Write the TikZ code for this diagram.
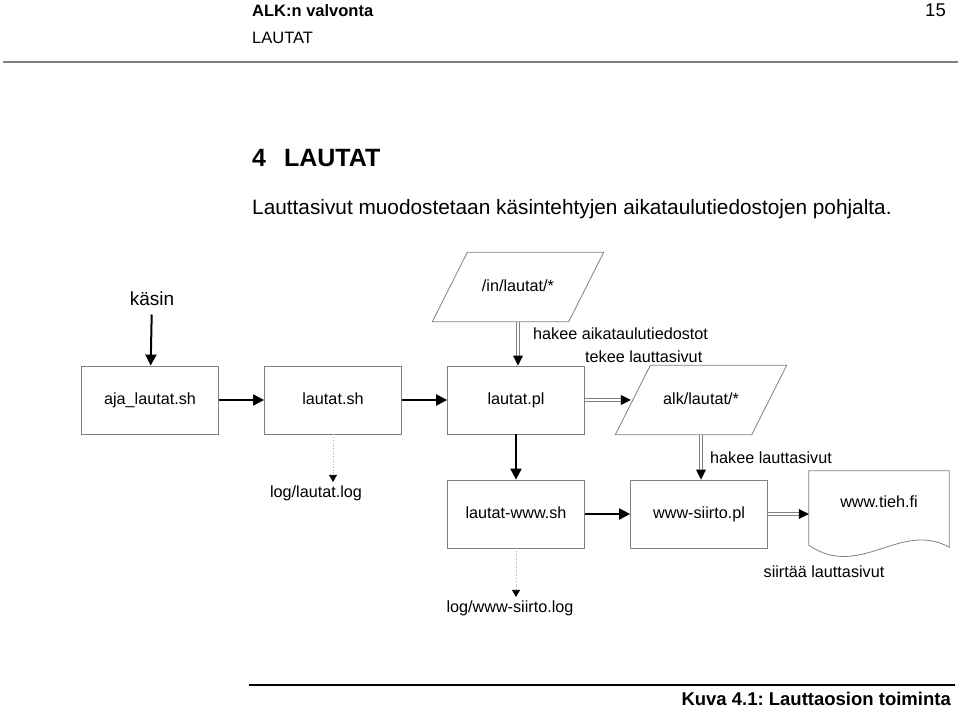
\documentclass[tikz,border=0pt]{standalone}
\usepackage{fontspec}
\setmainfont{Liberation Sans}
\usetikzlibrary{arrows.meta,positioning,decorations.markings}

\newcommand{\lblsize}{\fontsize{16.2}{19}\selectfont}
\frenchspacing

\begin{document}
\begin{tikzpicture}[x=1pt, y=-1pt, node distance=183pt, auto,
                    every node/.style={font=\lblsize},
                    prog/.style={rectangle, draw=gray, line width=0.8pt, minimum width=137pt, minimum height=68pt,
                                 text height=12pt, text depth=3.5pt},
                    files/.style={rectangle, minimum width=136pt, minimum height=69pt, text height=12pt, text depth=3.5pt},
                    page/.style={rectangle, minimum width=140pt, minimum height=74pt},
                    flow/.style={draw=black, line width=2pt, -{Triangle[length=11pt,width=11pt]}},
                    data/.style={draw=gray, line width=0.7pt, double=white, double distance=2.6pt, shorten >=9pt,
                                 postaction={decorate},
                                 decoration={markings, mark=at position 1 with {\fill[black] (0pt,0pt) -- (-10pt,5pt) -- (-10pt,-5pt) -- cycle;}}},
                    logline/.style={draw=gray!60, dotted, line width=0.7pt, -{Triangle[length=7pt,width=8pt,color=black]}}]

\useasboundingbox (0,0) rectangle (960,708);

\node[anchor=base west, inner sep=0, font=\fontsize{16.5}{19}\selectfont\bfseries] (head) at (252,17) {ALK:n valvonta};
\node[anchor=base east, inner sep=0, font=\fontsize{18.5}{21}\selectfont] (pagenum) at (946,17) {15};
\node[anchor=base west, inner sep=0, font=\fontsize{16.5}{19}\selectfont] (chapter) at (252,44) {LAUTAT};
\draw[gray, line width=1.3pt] (3,62) -- (958,62);
\node[anchor=base west, inner sep=0, font=\fontsize{25}{28}\selectfont\bfseries] (title) at (252,167) {4\hspace{18pt}LAUTAT};
\node[anchor=base west, inner sep=0, font=\fontsize{20.8}{24}\selectfont] (intro) at (252,215)
     {Lauttasivut muodostetaan käsintehtyjen aikataulutiedostojen pohjalta.};

\node[prog] (aja) at (150,400) {aja\_lautat.sh};
\node[prog] (lautatsh) [right of=aja] {lautat.sh};
\node[prog] (lautatpl) [right of=lautatsh] {lautat.pl};
\node[files] (alk) [right of=lautatpl, xshift=2pt] {alk/lautat/*};
\node[files] (in) [above of=lautatpl, node distance=113pt, xshift=2pt] {/in/lautat/*};
\node[prog] (lautatwww) [below of=lautatpl, node distance=114pt] {lautat-www.sh};
\node[prog] (siirto) [right of=lautatwww] {www-siirto.pl};
\node[page] (tieh) [right of=siirto, xshift=-3pt, yshift=6pt] {};
\node (tiehtext) at ([yshift=6pt]tieh.center) {www.tieh.fi};
\node[font=\fontsize{19}{22}\selectfont] (kasin) [above of=aja, node distance=101pt, xshift=2pt] {käsin};
\node (loglautat) [below of=lautatsh, node distance=93pt, xshift=-17pt] {log/lautat.log};
\node (logsiirto) [below of=lautatwww, node distance=94pt, xshift=-6pt] {log/www-siirto.log};

\node[anchor=west, inner sep=0] (hakeein) at (533,334) {hakee aikataulutiedostot};
\node[anchor=west, inner sep=0] (tekee) at (585,357) {tekee lauttasivut};
\node[anchor=west, inner sep=0] (hakeealk) at (710,458) {hakee lauttasivut};
\node[inner sep=0] (siirtaa) at (824,572) {siirtää lauttasivut};

\foreach \f in {in,alk}
  \draw[gray, line width=0.8pt] ([xshift=-17.5pt]\f.south west) -- ([xshift=-17.5pt]\f.south east)
       -- ([xshift=17.5pt]\f.north east) -- ([xshift=17.5pt]\f.north west) -- cycle;

\draw[gray, line width=0.8pt] (tieh.south west) -- (tieh.north west) -- (tieh.north east) -- ([yshift=-2pt]tieh.south east)
     .. controls ([shift={(-49pt,25pt)}]tieh.south east) and ([shift={(51pt,-35pt)}]tieh.south west) .. (tieh.south west);

\path
(kasin) edge[flow, shorten <=5pt] (aja)
(aja) edge[flow] (lautatsh)
(lautatsh) edge[flow] (lautatpl)
(lautatpl) edge[data] ([xshift=-2pt]alk.west)
(in.south) edge[data] (in.south |- lautatpl.north)
(lautatpl) edge[flow] (lautatwww)
(alk.south) edge[data] (alk.south |- siirto.north)
(lautatwww) edge[flow] (siirto)
(siirto) edge[data] (siirto -| tieh.west)
(lautatsh) edge[logline] (lautatsh |- loglautat.north)
(lautatwww) edge[logline] (lautatwww |- logsiirto.north);

\draw[line width=2pt] (249,685) -- (955,685);
\node[anchor=base east, inner sep=0, font=\fontsize{18.5}{21}\selectfont\bfseries] (caption) at (951,705)
     {Kuva 4.1: Lauttaosion toiminta};
\end{tikzpicture}
\end{document}
